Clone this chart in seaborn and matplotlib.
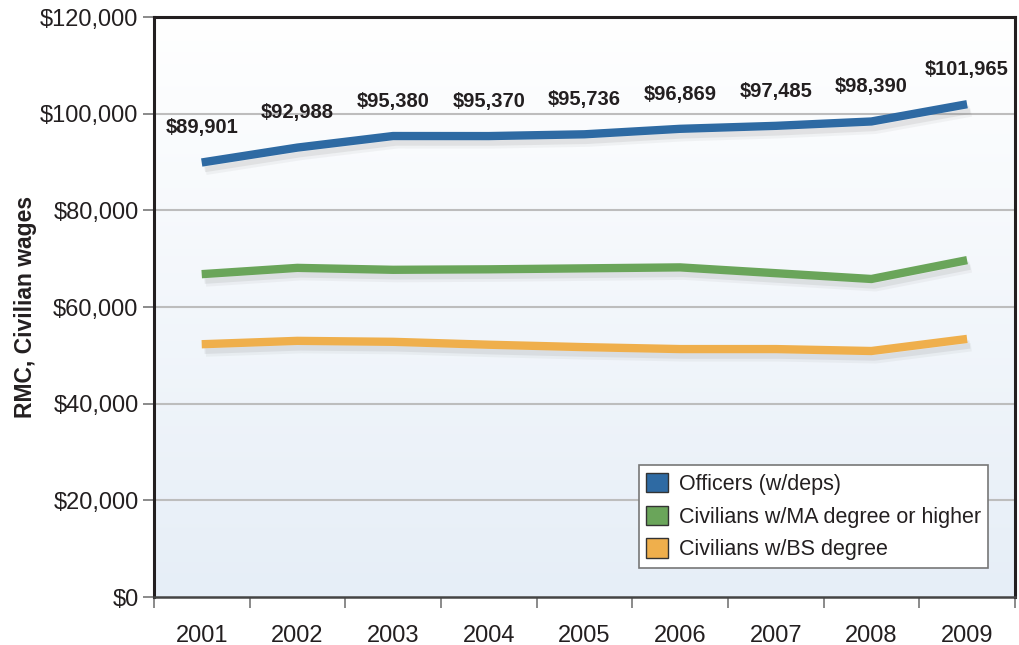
import numpy as np
import pandas as pd
import matplotlib
matplotlib.use("Agg")
import matplotlib.pyplot as plt
import matplotlib.patheffects as pe
from matplotlib.patches import Patch
from matplotlib.colors import LinearSegmentedColormap
import seaborn as sns

years = ["2001", "2002", "2003", "2004", "2005", "2006", "2007", "2008", "2009"]
officers = [89901, 92988, 95380, 95370, 95736, 96869, 97485, 98390, 101965]
civ_ma = [66800, 68100, 67700, 67800, 68000, 68200, 67000, 65800, 69700]
civ_bs = [52300, 53000, 52800, 52200, 51700, 51300, 51300, 50900, 53400]
series_names = ["Officers (w/deps)", "Civilians w/MA degree or higher", "Civilians w/BS degree"]
colors = ["#2E6AA3", "#6AA55A", "#EFAF4C"]
yticks = [0, 20000, 40000, 60000, 80000, 100000, 120000]
ytick_labels = ["$0", "$20,000", "$40,000", "$60,000", "$80,000", "$100,000", "$120,000"]

sns.set_theme(style="white")
plt.rcParams["font.family"] = ["Liberation Sans", "DejaVu Sans"]

rows = []
for name, vals in zip(series_names, [officers, civ_ma, civ_bs]):
    for i, v in enumerate(vals):
        rows.append({"idx": i, "value": v, "series": name})
df = pd.DataFrame(rows)

fig = plt.figure(figsize=(10.19, 6.45), dpi=100)
ax = fig.add_axes([0.151, 0.0744, 0.845, 0.8992])

xlim = (-0.5, len(years) - 0.5)
ylim = (0, 120000)

# gradient background: white at top, light blue at bottom
cmap = LinearSegmentedColormap.from_list("bg", ["#FFFFFF", "#E6EEF7"])
grad = np.linspace(1, 0, 256).reshape(-1, 1)
ax.imshow(grad, extent=[xlim[0], xlim[1], ylim[0], ylim[1]], aspect="auto",
          cmap=cmap, zorder=0, origin="lower", vmin=0, vmax=1)

for y in yticks[1:]:
    ax.axhline(y, color="#BDBDBD", lw=1.5, zorder=1)

sns.lineplot(data=df, x="idx", y="value", hue="series", hue_order=series_names,
             palette=colors, lw=6, ax=ax, legend=False, zorder=3)
for line in ax.get_lines():
    if line.get_linewidth() > 5:
        line.set_path_effects([pe.SimpleLineShadow(offset=(2, -4), shadow_color="#777777", alpha=0.12),
                               pe.SimpleLineShadow(offset=(3, -6), shadow_color="#777777", alpha=0.07),
                               pe.Normal()])
        line.set_solid_capstyle("butt")
        line.set_solid_joinstyle("round")

for i, v in enumerate(officers):
    ax.annotate(f"${v:,}", (i, v), xytext=(0, 25), textcoords="offset points",
                ha="center", va="center", fontsize=14.5, fontweight="bold", color="#231F20")

ax.set_xlim(*xlim)
ax.set_ylim(*ylim)
ax.set_xticks(range(len(years)))
ax.set_xticklabels(years)
ax.set_xticks(np.arange(-0.5, len(years)), minor=True)
ax.tick_params(axis="x", which="major", length=0, pad=20, labelsize=17, labelcolor="#231F20")
ax.tick_params(axis="x", which="minor", length=8, width=1.2, color="#777777", bottom=True)
ax.set_yticks(yticks)
ax.set_yticklabels(ytick_labels)
ax.tick_params(axis="y", which="major", length=8, width=1.2, color="#777777", left=True,
               labelsize=17, labelcolor="#231F20", pad=3)

ax.set_xlabel("")
ax.set_ylabel("RMC, Civilian wages", fontsize=16.5, fontweight="bold", color="#231F20", labelpad=2)

for side in ["left", "top", "right"]:
    ax.spines[side].set_color("#231F20")
    ax.spines[side].set_linewidth(2.2)
ax.spines["bottom"].set_color("#444444")
ax.spines["bottom"].set_linewidth(1.8)
for s in ax.spines.values():
    s.set_zorder(5)

handles = [Patch(facecolor=c, edgecolor="#333333", lw=1) for c in colors]
leg = ax.legend(handles, series_names, loc="lower right", bbox_to_anchor=(0.969, 0.05),
                borderaxespad=0, fontsize=15.5, frameon=True, fancybox=False, framealpha=1,
                handlelength=1.0, handleheight=1.0, handletextpad=0.5,
                labelspacing=0.5, borderpad=0.35)
leg.get_frame().set_edgecolor("#777777")
leg.get_frame().set_linewidth(1.2)
for t in leg.get_texts():
    t.set_color("#231F20")

fig.savefig("out.png", dpi=100)
